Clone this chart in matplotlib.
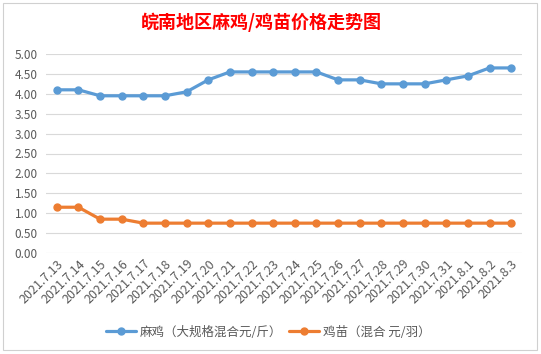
import matplotlib
matplotlib.use("Agg")
import matplotlib.pyplot as plt
from matplotlib.patches import Rectangle
from matplotlib.ticker import FormatStrFormatter

plt.rcParams["font.family"] = ["Noto Sans CJK SC", "DejaVu Sans"]

# Data
dates = [
    "2021.7.13", "2021.7.14", "2021.7.15", "2021.7.16", "2021.7.17", "2021.7.18",
    "2021.7.19", "2021.7.20", "2021.7.21", "2021.7.22", "2021.7.23", "2021.7.24",
    "2021.7.25", "2021.7.26", "2021.7.27", "2021.7.28", "2021.7.29", "2021.7.30",
    "2021.7.31", "2021.8.1", "2021.8.2", "2021.8.3",
]
maji = [4.10, 4.10, 3.95, 3.95, 3.95, 3.95, 4.05, 4.35, 4.55, 4.55, 4.55,
        4.55, 4.55, 4.35, 4.35, 4.25, 4.25, 4.25, 4.35, 4.45, 4.65, 4.65]
jimiao = [1.15, 1.15, 0.85, 0.85, 0.75, 0.75, 0.75, 0.75, 0.75, 0.75, 0.75,
          0.75, 0.75, 0.75, 0.75, 0.75, 0.75, 0.75, 0.75, 0.75, 0.75, 0.75]

label_maji = "麻鸡（大规格混合元/斤）"
label_jimiao = "鸡苗（混合 元/羽）"
title = "皖南地区麻鸡/鸡苗价格走势图"

W, H = 541, 354
fig = plt.figure(figsize=(W / 100, H / 100), dpi=100)

# chart border (Excel chart frame)
fig.patches.append(Rectangle((3 / W, 1 - 350 / H), 534 / W, 347 / H,
                             transform=fig.transFigure, fill=False,
                             edgecolor="#D0D0D0", linewidth=0.8))

ax = fig.add_axes([46 / W, 1 - 253 / H, 476 / W, 199 / H])
x = list(range(len(dates)))

ax.plot(x, maji, color="#5B9BD5", linewidth=2.3, marker="o", markersize=5,
        label=label_maji, solid_capstyle="round")
ax.plot(x, jimiao, color="#ED7D31", linewidth=2.3, marker="o", markersize=5,
        label=label_jimiao, solid_capstyle="round")

ax.set_xlim(-0.5, len(dates) - 0.5)
ax.set_ylim(0, 5)
ax.set_yticks([i * 0.5 for i in range(11)])
ax.yaxis.set_major_formatter(FormatStrFormatter("%.2f"))
ax.grid(axis="y", color="#D9D9D9", linewidth=0.8)
ax.set_axisbelow(True)
for s in ax.spines.values():
    s.set_visible(False)
ax.tick_params(axis="both", length=0, colors="#595959", labelsize=8.5)
ax.tick_params(axis="y", pad=6)
ax.set_xticks(x)
ax.set_xticklabels(dates, rotation=45, ha="right", va="top",
                   rotation_mode="anchor", fontsize=9)
ax.tick_params(axis="x", pad=3)

fig.text(261 / W, 1 - 22 / H, title, ha="center", va="center",
         fontsize=13, fontweight="bold", color="#FF0000")

fig.legend(loc="center", bbox_to_anchor=(268 / W, 1 - 332 / H), ncol=2,
           frameon=False, fontsize=9, labelcolor="#595959", handlelength=2.4,
           handletextpad=0.3, columnspacing=0.6)

fig.savefig("out.png", dpi=100)
